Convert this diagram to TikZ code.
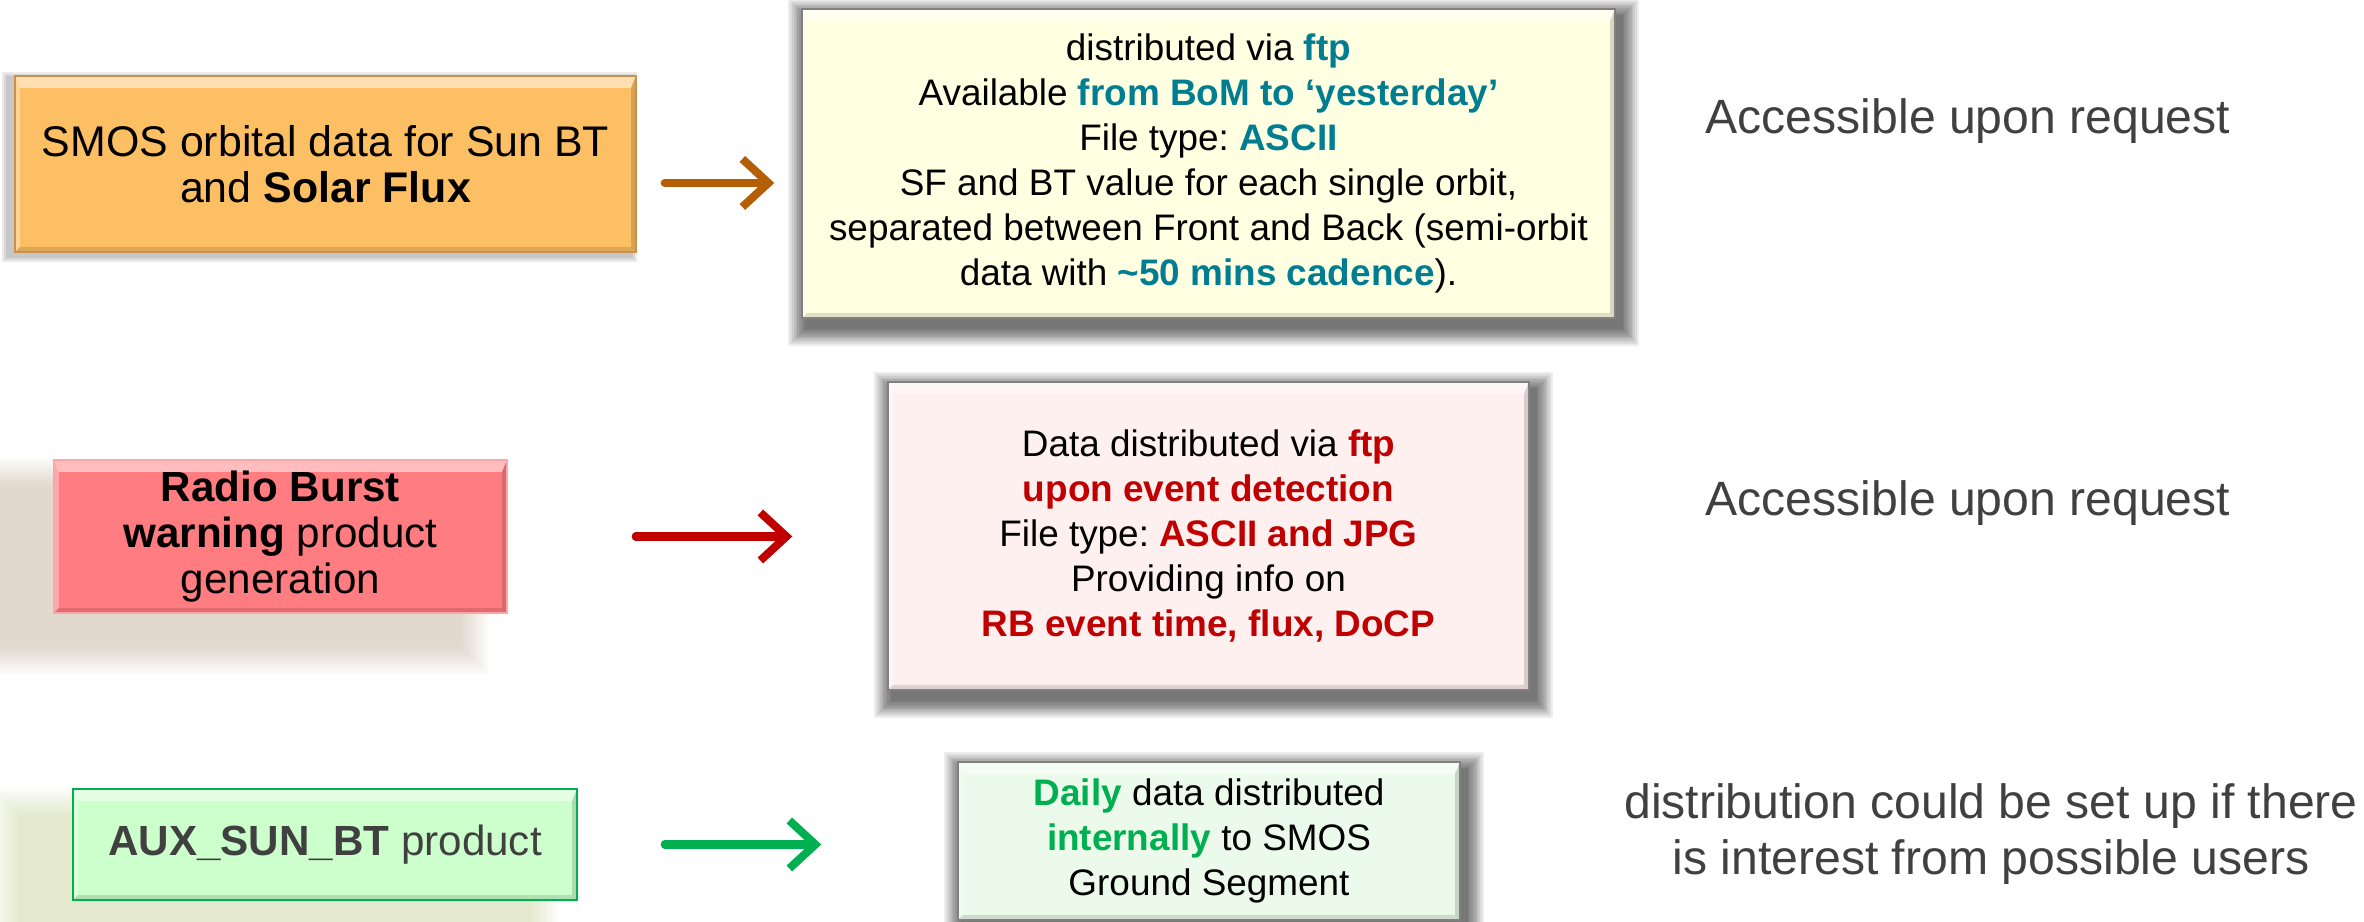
\documentclass[tikz,border=0pt]{standalone}
\usepackage{fontspec}
\setmainfont{Liberation Sans}
\usetikzlibrary{arrows.meta,backgrounds}

\definecolor{orangebox}{RGB}{253,191,99}
\definecolor{orangeline}{RGB}{200,145,80}
\definecolor{brownarrow}{RGB}{180,95,6}
\definecolor{ivory}{RGB}{255,255,225}
\definecolor{tealtext}{RGB}{0,125,145}
\definecolor{redbox}{RGB}{255,124,128}
\definecolor{redline}{RGB}{255,165,165}
\definecolor{darkred}{RGB}{192,0,0}
\definecolor{pinkbox}{RGB}{255,240,240}
\definecolor{greenbox}{RGB}{204,255,204}
\definecolor{greenline}{RGB}{0,176,80}
\definecolor{lightgreen}{RGB}{235,250,235}
\definecolor{graytext}{RGB}{64,64,64}
\definecolor{burstshade}{RGB}{185,160,130}
\definecolor{auxshade}{RGB}{190,205,130}

\begin{document}
\frenchspacing
\begin{tikzpicture}[
  box/.style={draw, rectangle, inner sep=0pt, align=center},
  bevel/.style={path picture={
    \fill[white, opacity=.5] (path picture bounding box.north west) -- (path picture bounding box.north east)
      -- ([shift={(-0.5mm,-1.2mm)}]path picture bounding box.north east) -- ([shift={(0.5mm,-1.2mm)}]path picture bounding box.north west) -- cycle;
    \fill[white, opacity=.35] (path picture bounding box.north west) -- ([shift={(0.5mm,-1.2mm)}]path picture bounding box.north west)
      -- ([shift={(0.5mm,0.5mm)}]path picture bounding box.south west) -- (path picture bounding box.south west) -- cycle;
    \fill[black, opacity=.15] (path picture bounding box.north east) -- ([shift={(-0.5mm,-1.2mm)}]path picture bounding box.north east)
      -- ([shift={(-0.5mm,0.5mm)}]path picture bounding box.south east) -- (path picture bounding box.south east) -- cycle;
    \fill[black, opacity=.12] (path picture bounding box.south west) -- (path picture bounding box.south east)
      -- ([shift={(-0.5mm,0.5mm)}]path picture bounding box.south east) -- ([shift={(0.5mm,0.5mm)}]path picture bounding box.south west) -- cycle;}},
  bigfont/.style={font=\fontsize{12.2}{13.1}\selectfont},
  midfont/.style={font=\fontsize{10.5}{12.8}\selectfont},
  notefont/.style={font=\fontsize{13.7}{15.9}\selectfont, text=graytext, align=center},
  arr/.style={line width=2.3pt, line cap=round, -{Straight Barb[length=2.6mm, width=4.8mm]}},
]

  \useasboundingbox (0,0) rectangle (23.64,9.22);

  % first row
  \node[box, bevel, bigfont, fill=orangebox, draw=orangeline, minimum width=6.21cm, minimum height=1.76cm]
    (smos) at (3.255,7.58) {SMOS orbital data for Sun BT\\ and \textbf{Solar Flux}};
  \node[box, bevel, midfont, fill=ivory, draw=gray, minimum width=8.13cm, minimum height=3.09cm]
    (ftpbox) at (12.085,7.585) {distributed via {\bfseries\color{tealtext}ftp}\\
      Available {\bfseries\color{tealtext}from BoM to ‘yesterday’}\\
      File type: {\bfseries\color{tealtext}ASCII}\\
      SF and BT value for each single orbit,\\
      separated between Front and Back (semi-orbit\\
      data with {\bfseries\color{tealtext}\textasciitilde50 mins cadence}).};
  \node[notefont] (access1) at (19.68,8.01) {Accessible upon request};
  \draw[arr, brownarrow, shorten <=2.8mm, shorten >=2.7mm]
    ([yshift=-1.9mm]smos.east) -- ([yshift=-1.9mm]smos.east -| ftpbox.west);

  % second row
  \node[box, bevel, font=\fontsize{12}{13.1}\selectfont, fill=redbox, draw=redline,
        minimum width=4.53cm, minimum height=1.53cm]
    (burst) at (2.805,3.855) {\textbf{Radio Burst}\\ \textbf{warning} product\\ generation};
  \node[box, bevel, midfont, fill=pinkbox, draw=gray, minimum width=6.41cm, minimum height=3.08cm]
    (rbbox) at (12.085,3.86) {Data distributed via {\bfseries\color{darkred}ftp}\\
      {\bfseries\color{darkred}upon event detection}\\
      File type: {\bfseries\color{darkred}ASCII and JPG}\\
      Providing info on\\
      {\bfseries\color{darkred}RB event time, flux, DoCP}};
  \node[notefont] (access2) at (19.68,4.19) {Accessible upon request};
  \draw[arr, darkred, shorten <=12.8mm, shorten >=9.5mm]
    (burst.east) -- (burst.east -| rbbox.west);

  % third row
  \node[box, bevel, font=\fontsize{12}{13.1}\selectfont, text=graytext, fill=greenbox, draw=greenline,
        minimum width=5.04cm, minimum height=1.11cm]
    (auxbt) at (3.25,0.775) {\textbf{AUX\_SUN\_BT} product};
  \node[box, bevel, midfont, fill=lightgreen, draw=gray, minimum width=5.02cm, minimum height=1.58cm]
    (daily) at (12.09,0.81) {{\bfseries\color{greenline}Daily} data distributed\\
      {\bfseries\color{greenline}internally} to SMOS\\
      Ground Segment};
  \node[notefont] (users) at (19.91,0.88) {distribution could be set up if there\\ is interest from possible users};
  \draw[arr, greenline, shorten <=8.7mm, shorten >=13.6mm]
    (auxbt.east) -- (auxbt.east -| daily.west);

  % shadows
  \begin{scope}[on background layer]
    \fill[white] (0,0) rectangle (23.64,9.22);
    \foreach \r in {10,...,1} {
      \fill[burstshade, opacity=.045] ([shift={(-5mm-\r*0.3mm,-3mm-\r*0.3mm)}]burst.south west)
        rectangle ([shift={(-5mm+\r*0.3mm,-3mm+\r*0.3mm)}]burst.north east);
      \fill[auxshade, opacity=.045] ([shift={(-5mm-\r*0.3mm,-3mm-\r*0.3mm)}]auxbt.south west)
        rectangle ([shift={(-5mm+\r*0.3mm,-3mm+\r*0.3mm)}]auxbt.north east);
    }
    \foreach \n in {ftpbox,rbbox,daily}
      \foreach \r in {10,...,1}
        \fill[black, opacity=.07] ([shift={(0.5mm-\r*0.18mm,-0.9mm-\r*0.18mm)}]\n.south west)
          rectangle ([shift={(0.5mm+\r*0.18mm,-0.9mm+\r*0.18mm)}]\n.north east);
    \foreach \r in {3,...,1}
      \fill[black, opacity=.08] ([shift={(-0.6mm-\r*0.2mm,-0.3mm-\r*0.2mm)}]smos.south west)
        rectangle ([shift={(-0.6mm+\r*0.2mm,-0.3mm+\r*0.2mm)}]smos.north east);
  \end{scope}

\end{tikzpicture}
\end{document}
